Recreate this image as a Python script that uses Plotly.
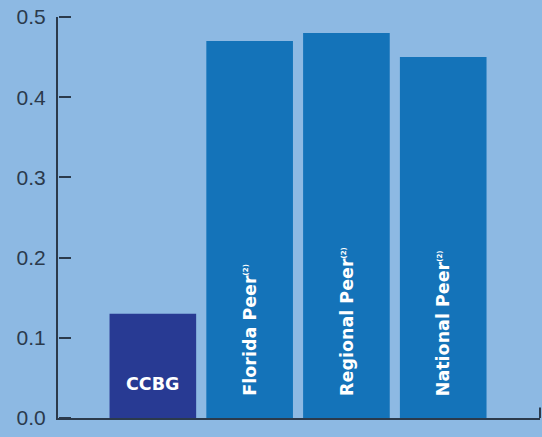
import plotly.graph_objects as go

categories = ["CCBG", "Florida Peer", "Regional Peer", "National Peer"]
values = [0.13, 0.47, 0.48, 0.45]
bar_labels = ["CCBG",
              "Florida Peer<sup><span style='font-size:7px'>(2)</span></sup>",
              "Regional Peer<sup><span style='font-size:7px'>(2)</span></sup>",
              "National Peer<sup><span style='font-size:7px'>(2)</span></sup>"]
label_angles = [0, -90, -90, -90]
bar_colors = ["#283A93", "#1473B9", "#1473B9", "#1473B9"]
y_ticks = [0.0, 0.1, 0.2, 0.3, 0.4, 0.5]

BG = "#8DB9E3"
AXIS = "#2B3A4C"

fig = go.Figure()
fig.add_trace(go.Bar(x=list(range(len(categories))), y=values,
                     marker=dict(color=bar_colors, line=dict(width=0)),
                     hoverinfo="skip"))
# helper trace so the tick-mark axis (y2) is rendered
fig.add_trace(go.Scatter(x=[0], y=[0], yaxis="y2", mode="markers",
                         marker=dict(opacity=0), hoverinfo="skip"))

for i, (lab, ang) in enumerate(zip(bar_labels, label_angles)):
    fig.add_annotation(x=i, y=0, xref="x", yref="y", text=lab, textangle=ang,
                       showarrow=False, xanchor="center", yanchor="bottom",
                       yshift=20 if ang else 22,
                       font=dict(family="DejaVu Sans", size=17.5, color="white", weight="bold"))

# small upturned tick at the right end of the x axis
fig.add_shape(type="line", xref="paper", yref="paper", x0=1, x1=1, y0=0, y1=0.026,
              line=dict(color=AXIS, width=2))

fig.update_layout(
    width=542, height=437,
    margin=dict(l=58, r=2, t=17, b=19),
    paper_bgcolor=BG, plot_bgcolor=BG,
    bargap=0.105,
    showlegend=False,
    xaxis=dict(range=[-0.98, 4.0], showticklabels=False, ticks="", showgrid=False,
               zeroline=False, showline=True, linecolor=AXIS, linewidth=2),
    yaxis=dict(range=[0, 0.5], tickmode="array", tickvals=y_ticks, tickformat=".1f",
               ticks="", showgrid=False, zeroline=False, showline=True,
               linecolor=AXIS, linewidth=2, ticklabelstandoff=6,
               tickfont=dict(family="Liberation Sans", size=21, color=AXIS)),
    yaxis2=dict(range=[0, 0.5], overlaying="y", side="right", anchor="free", position=0,
                tickmode="array", tickvals=y_ticks, showticklabels=False,
                ticks="outside", ticklen=12, tickwidth=2, tickcolor=AXIS,
                showgrid=False, zeroline=False, showline=False),
)

fig.write_html("out.html")
